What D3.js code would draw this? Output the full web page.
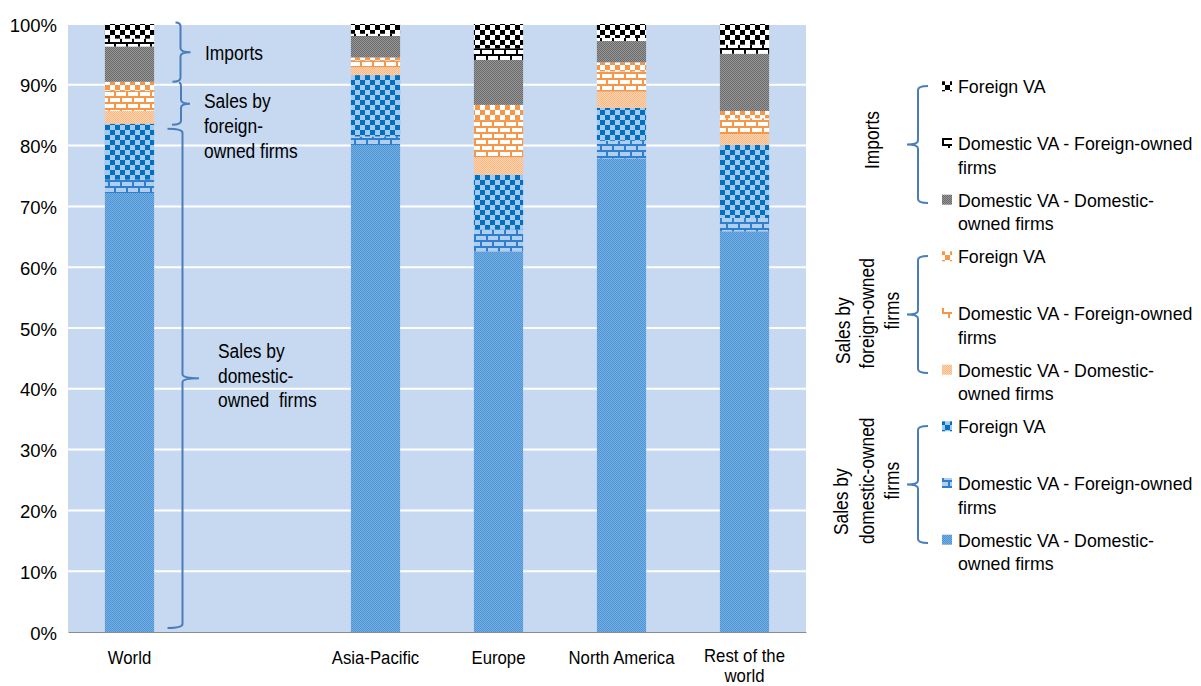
<!DOCTYPE html>
<html>
<head>
<meta charset="utf-8">
<script src="https://cdn.jsdelivr.net/npm/d3@7"></script>
<style>
  html, body { margin: 0; padding: 0; background: #fff; }
  svg { display: block; font-family: "Liberation Sans", Arial, sans-serif; }
</style>
</head>
<body>
<svg id="chart" width="1201" height="686"></svg>
<script>
// ---- Data: shares of final demand (%), stacked bottom to top ----
const categories = ["World", "", "Asia-Pacific", "Europe", "North America", "Rest of the world"];
const regions = ["World", "Asia-Pacific", "Europe", "North America", "Rest of the world"];

// Sales by domestic-owned firms
const domOwnedDomesticVA     = [72.2, 80.1, 62.6, 77.9, 65.9];
const domOwnedForeignOwnedVA = [2.2, 1.4, 3.6, 2.9, 2.2];
const domOwnedForeignVA      = [9.2, 10.1, 9.0, 5.4, 12.0];
// Sales by foreign-owned firms
const forOwnedDomesticVA     = [2.1, 1.3, 2.9, 2.7, 1.8];
const forOwnedForeignOwnedVA = [3.3, 1.1, 6.1, 3.3, 2.6];
const forOwnedForeignVA      = [1.5, 0.5, 2.5, 1.5, 1.2];
// Imports
const importsDomesticVA      = [5.8, 3.5, 7.4, 3.5, 9.4];
const importsForeignOwnedVA  = [1.3, 0.4, 1.9, 0.5, 1.5];
const importsForeignVA       = [2.4, 1.6, 4.0, 2.3, 3.4];

const yTicks = [0, 10, 20, 30, 40, 50, 60, 70, 80, 90, 100];

const groupTitles = [["Imports"], ["Sales by", "foreign-owned", "firms"], ["Sales by", "domestic-owned", "firms"]];
const itemLabels = [["Foreign VA"], ["Domestic VA - Foreign-owned", "firms"], ["Domestic VA - Domestic-", "owned firms"]];
const annotationLabels = [["Imports"], ["Sales by", "foreign-", "owned firms"], ["Sales by", "domestic-", "owned  firms"]];

// ---- Setup ----
const svg = d3.select("#chart");
const plot = { left: 68, right: 806, top: 24, bottom: 632 };

const x = d3.scaleBand().domain(categories)
  .range([plot.left, plot.right]).paddingInner(0.6).paddingOuter(0.3);
const y = d3.scaleLinear().domain([0, 100]).range([plot.bottom, plot.top]);

// Fill patterns
const defs = svg.append("defs");
function checker(id, fg, bg) {
  const p = defs.append("pattern").attr("id", id).attr("patternUnits", "userSpaceOnUse")
    .attr("width", 10).attr("height", 10);
  p.append("rect").attr("width", 10).attr("height", 10).attr("fill", bg);
  p.append("rect").attr("width", 5).attr("height", 5).attr("fill", fg);
  p.append("rect").attr("x", 5).attr("y", 5).attr("width", 5).attr("height", 5).attr("fill", fg);
}
function brick(id, fg, bg) {
  const p = defs.append("pattern").attr("id", id).attr("patternUnits", "userSpaceOnUse")
    .attr("width", 12).attr("height", 12);
  p.append("rect").attr("width", 12).attr("height", 12).attr("fill", bg);
  p.append("rect").attr("y", 0).attr("width", 12).attr("height", 2).attr("fill", fg);
  p.append("rect").attr("y", 6).attr("width", 12).attr("height", 2).attr("fill", fg);
  p.append("rect").attr("x", 0).attr("y", 0).attr("width", 2).attr("height", 6).attr("fill", fg);
  p.append("rect").attr("x", 6).attr("y", 6).attr("width", 2).attr("height", 6).attr("fill", fg);
}
function dots(id, a, b) {
  const p = defs.append("pattern").attr("id", id).attr("patternUnits", "userSpaceOnUse")
    .attr("width", 2).attr("height", 2);
  p.append("rect").attr("width", 2).attr("height", 2).attr("fill", b);
  p.append("rect").attr("width", 1).attr("height", 1).attr("fill", a);
  p.append("rect").attr("x", 1).attr("y", 1).attr("width", 1).attr("height", 1).attr("fill", a);
}
checker("blueChecker", "#0070C0", "#A5C8EC");
brick("blueBrick", "#2E7FD0", "#B0CFEF");
dots("blueDots", "#4E93D4", "#76AFE2");
checker("orangeChecker", "#F79646", "#FFFFFF");
brick("orangeBrick", "#F79646", "#FFFFFF");
dots("peachDots", "#F8B987", "#FDD3AE");
checker("blackChecker", "#000000", "#FFFFFF");
brick("blackBrick", "#000000", "#FFFFFF");
dots("grayDots", "#6A6A6A", "#979797");

// Series, bottom to top
const seriesKeys = ["domDom", "domFor", "domFva", "forDom", "forFor", "forFva", "impDom", "impFor", "impFva"];
const seriesValues = [domOwnedDomesticVA, domOwnedForeignOwnedVA, domOwnedForeignVA,
  forOwnedDomesticVA, forOwnedForeignOwnedVA, forOwnedForeignVA,
  importsDomesticVA, importsForeignOwnedVA, importsForeignVA];
const seriesFill = {
  domDom: "url(#blueDots)", domFor: "url(#blueBrick)", domFva: "url(#blueChecker)",
  forDom: "url(#peachDots)", forFor: "url(#orangeBrick)", forFva: "url(#orangeChecker)",
  impDom: "url(#grayDots)", impFor: "url(#blackBrick)", impFva: "url(#blackChecker)"
};

const rows = regions.map((r, i) => {
  const row = { region: r };
  seriesKeys.forEach((k, j) => { row[k] = seriesValues[j][i]; });
  return row;
});
const stacked = d3.stack().keys(seriesKeys)(rows);

// Text helper (horizontal compression via scale)
function label(g, tx, ty, str, size, sx, anchor, rot) {
  return g.append("text")
    .attr("transform", `translate(${tx},${ty}) rotate(${rot || 0}) scale(${sx},1)`)
    .attr("text-anchor", anchor || "start")
    .style("font-size", size + "px")
    .style("white-space", "pre")
    .attr("fill", "#000")
    .text(str);
}

// Plot background
svg.append("rect")
  .attr("x", plot.left).attr("y", plot.top)
  .attr("width", plot.right - plot.left).attr("height", plot.bottom - plot.top)
  .attr("fill", "#C6D9F0");

// Gridlines
svg.append("g").selectAll("line")
  .data(yTicks.filter(d => d > 0))
  .join("line")
  .attr("x1", plot.left).attr("x2", plot.right)
  .attr("y1", d => y(d)).attr("y2", d => y(d))
  .attr("stroke", "#FFFFFF").attr("stroke-width", 2);

// Bars
svg.append("g").selectAll("g")
  .data(stacked)
  .join("g")
  .attr("fill", s => seriesFill[s.key])
  .selectAll("rect")
  .data(s => s)
  .join("rect")
  .attr("x", d => x(d.data.region))
  .attr("width", x.bandwidth())
  .attr("y", d => y(d[1]))
  .attr("height", d => y(d[0]) - y(d[1]));

// Y axis
const yAxis = svg.append("g")
  .attr("transform", `translate(${plot.left},0)`)
  .call(d3.axisLeft(y).tickValues(yTicks).tickFormat(d => d + "%").tickSize(0).tickPadding(11));
yAxis.select(".domain").remove();
yAxis.selectAll("text")
  .attr("dy", "0.38em")
  .style("font-size", "18.5px")
  .style("font-family", "'Liberation Sans', Arial, sans-serif")
  .attr("fill", "#000");

// X axis
const xAxis = svg.append("g")
  .attr("transform", `translate(0,${plot.bottom})`)
  .call(d3.axisBottom(x).tickSize(0).tickSizeOuter(0));
xAxis.select(".domain").attr("stroke", "#8C8C8C").attr("stroke-width", 1);
const categoryLines = { "Rest of the world": ["Rest of the", "world"] };
xAxis.selectAll(".tick").each(function (d) {
  const tick = d3.select(this);
  tick.select("text").remove();
  const lines = categoryLines[d] || [d];
  lines.forEach((line, i) => {
    tick.append("text")
      .attr("transform", `translate(0,${(lines.length > 1 ? 29.5 : 32) + i * 20.5}) scale(0.93,1)`)
      .attr("text-anchor", "middle")
      .style("font-size", "18px")
      .style("font-family", "'Liberation Sans', Arial, sans-serif")
      .attr("fill", "#000")
      .text(line);
  });
});

// Curly brackets beside the World bar
const braceColor = "#4A7EBB";
function rightBrace(g, bx, top, bot, tipLen, hookTop, hookBot) {
  const tip = (top + bot) / 2, r = 4;
  const p = `M${bx - hookTop},${top} Q${bx},${top} ${bx},${top + r} V${tip - r} ` +
    `Q${bx},${tip} ${bx + tipLen},${tip} Q${bx},${tip} ${bx},${tip + r} V${bot - r} ` +
    `Q${bx},${bot} ${bx - hookBot},${bot}`;
  g.append("path").attr("d", p).attr("fill", "none").attr("stroke", braceColor).attr("stroke-width", 2);
}
function leftBrace(g, bx, top, bot, tipLen, hook) {
  const tip = (top + bot) / 2, r = 4;
  const p = `M${bx + hook},${top} Q${bx},${top} ${bx},${top + r} V${tip - r} ` +
    `Q${bx},${tip} ${bx - tipLen},${tip} Q${bx},${tip} ${bx},${tip + r} V${bot - r} ` +
    `Q${bx},${bot} ${bx + hook},${bot}`;
  g.append("path").attr("d", p).attr("fill", "none").attr("stroke", braceColor).attr("stroke-width", 2);
}

const world = rows[0];
const importsBase = 100 - world.impDom - world.impFor - world.impFva;
const foreignBase = importsBase - world.forDom - world.forFor - world.forFva;
const ann = svg.append("g");
rightBrace(ann, 180.5, y(100) - 1.5, y(importsBase), 10, 5, 8);
rightBrace(ann, 181, y(importsBase) + 1, y(foreignBase) + 1, 9, 2, 9);
rightBrace(ann, 182.5, y(foreignBase) + 5, y(0) - 4, 16.5, 15, 15);

label(ann, 205, 60, annotationLabels[0][0], 20, 0.87);
annotationLabels[1].forEach((s, i) => label(ann, 204, 108 + i * 25, s, 20, 0.87));
annotationLabels[2].forEach((s, i) => label(ann, 218, 358 + i * 24.5, s, 20, 0.87));

// Legend
const legend = svg.append("g");
const groupPatterns = [
  ["blackChecker", "blackBrick", "grayDots"],
  ["orangeChecker", "orangeBrick", "peachDots"],
  ["blueChecker", "blueBrick", "blueDots"]
];
const titlePos = [
  [[871.7, 140]],
  [[842.5, 160.7], [866.7, 143.3], [891.7, 140.7]],
  [[840.5, 161.7], [866.7, 140.8], [891.7, 140.7]]
];
const itemBaselines = [93.3, 150, 206.7];
groupTitles.forEach((title, gi) => {
  const off = gi * 170;
  leftBrace(legend, 918, 86 + off, 203 + off, 11, 10);
  title.forEach((s, li) => {
    const [tx, ty] = titlePos[gi][li];
    label(legend, tx, ty + off, s, 20, 0.87, "middle", -90).attr("dy", "0.36em");
  });
  itemLabels.forEach((lines, ii) => {
    const base = itemBaselines[ii] + off;
    legend.append("rect")
      .attr("x", 942).attr("y", base - 12).attr("width", 10).attr("height", 10)
      .attr("fill", `url(#${groupPatterns[gi][ii]})`);
    lines.forEach((s, li) => label(legend, 958, base + li * 23.5, s, 18.5, 0.96));
  });
});
</script>
</body>
</html>
